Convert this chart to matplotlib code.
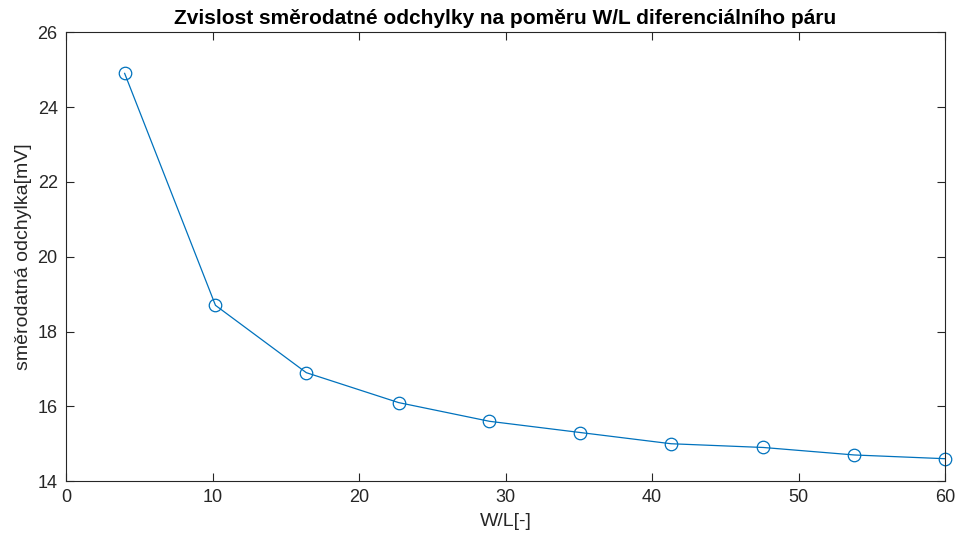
import numpy as np
import matplotlib.pyplot as plt

# W/L ratio of the differential pair vs. standard deviation
wl = [4.0, 10.2, 16.4, 22.7, 28.9, 35.1, 41.3, 47.6, 53.8, 60.0]
sigma_mv = [24.9, 18.7, 16.9, 16.1, 15.6, 15.3, 15.0, 14.9, 14.7, 14.6]

x_ticks = [0, 10, 20, 30, 40, 50, 60]
y_ticks = [14, 16, 18, 20, 22, 24, 26]

plt.rcParams['font.family'] = ['Liberation Sans', 'DejaVu Sans']

fig = plt.figure(figsize=(9.57, 5.37), dpi=100)
ax = fig.add_axes([0.069, 0.104, 0.9185, 0.836])

ax.plot(wl, sigma_mv, '-o', color='#0072BD', linewidth=0.9,
        markersize=9, markerfacecolor='none', markeredgewidth=0.9, clip_on=False)

ax.set_xlim(0, 60)
ax.set_ylim(14, 26)
ax.set_xticks(x_ticks)
ax.set_yticks(y_ticks)
ax.tick_params(direction='in', top=True, right=True, length=6, width=0.8,
               labelsize=13, colors='#262626')
ax.tick_params(axis='x', pad=6)
ax.tick_params(axis='y', pad=6)
for s in ax.spines.values():
    s.set_color('#262626')
    s.set_linewidth(0.8)

ax.set_xlabel("W/L[-]", fontsize=14, color='#262626', labelpad=5)
ax.set_ylabel("směrodatná odchylka[mV]", fontsize=14, color='#262626', labelpad=4)
ax.set_title("Zvislost směrodatné odchylky na poměru W/L diferenciálního páru",
             fontsize=15, fontweight='bold', pad=6)

fig.savefig("out.png", dpi=100)
plt.close(fig)
